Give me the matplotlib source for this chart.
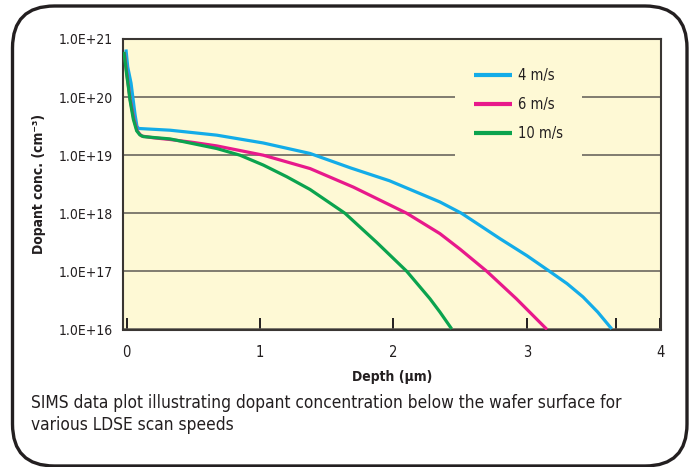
import matplotlib
matplotlib.use("Agg")
import matplotlib.pyplot as plt
from matplotlib.patches import FancyBboxPatch
from matplotlib.ticker import FixedLocator, NullFormatter

# ---------------- data ----------------
depth_4 = [-0.004, 0.009, 0.034, 0.064, 0.078, 0.09, 0.327, 0.676, 1.025, 1.375, 1.68,
           1.97, 2.348, 2.51, 2.80, 3.0, 3.17, 3.3, 3.42, 3.53, 3.635]
logc_4 = [20.82, 20.52, 20.24, 19.70, 19.50, 19.46, 19.43, 19.345, 19.21, 19.03, 18.78,
          18.56, 18.195, 18.0, 17.56, 17.27, 17.0, 16.79, 16.56, 16.30, 16.01]

depth_6 = [-0.016, 0.0, 0.026, 0.055, 0.08, 0.1, 0.114, 0.2, 0.327, 0.5, 0.676, 1.025, 1.375,
           1.70, 2.10, 2.348, 2.50, 2.70, 2.92, 3.15]
logc_6 = [20.77, 20.45, 19.98, 19.62, 19.42, 19.36, 19.33, 19.30, 19.27, 19.22, 19.16, 19.0, 18.77,
          18.45, 18.0, 17.65, 17.38, 17.0, 16.53, 16.0]

depth_10 = [-0.019, 0.0, 0.013, 0.026, 0.051, 0.076, 0.10, 0.126, 0.327, 0.676, 0.85, 1.025, 1.2,
            1.375, 1.637, 1.874, 2.10, 2.273, 2.348, 2.436]
logc_10 = [20.78, 20.41, 20.19, 19.95, 19.62, 19.42, 19.35, 19.32, 19.28, 19.115, 19.0, 18.83, 18.63,
           18.41, 18.0, 17.50, 17.0, 16.53, 16.30, 16.01]

series_labels = ["4 m/s", "6 m/s", "10 m/s"]
series_colors = ["#13ACE8", "#E8198B", "#0BA34E"]

x_ticks = [0, 1, 2, 3, 4]
y_ticks = [1e16, 1e17, 1e18, 1e19, 1e20, 1e21]
y_tick_labels = ["1.0E+16", "1.0E+17", "1.0E+18", "1.0E+19", "1.0E+20", "1.0E+21"]

caption = ("SIMS data plot illustrating dopant concentration below the wafer surface for\n"
           "various LDSE scan speeds")

plt.rcParams["font.family"] = ["DejaVu Sans"]
plt.rcParams["font.stretch"] = "condensed"
TXT = "#231F20"

W, H = 689, 467
fig = plt.figure(figsize=(W / 100, H / 100), dpi=100)
fig.patch.set_facecolor("white")

# background axes in pixel units for rounded frame
bg = fig.add_axes([0, 0, 1, 1], zorder=0)
bg.set_xlim(0, W)
bg.set_ylim(H, 0)
bg.axis("off")
frame = FancyBboxPatch((12.5 + 42, 6 + 42), 674.5 - 84, 460 - 84,
                       boxstyle="round,pad=42", linewidth=2.4, edgecolor="#231F20",
                       facecolor="white")
bg.add_patch(frame)
bg.text(31, 414, caption, fontsize=12.4, color=TXT, va="center", ha="left",
        linespacing=1.3, stretch="condensed")

# main axes
L, R, T, B = 123.5, 661, 39, 329.5
ax = fig.add_axes([L / W, 1 - B / H, (R - L) / W, (B - T) / H], zorder=1)
ax.set_facecolor("#FEF9D5")
ax.set_yscale("log")
ax.set_xlim(-0.0225, 4.004)
ax.set_ylim(1e16, 1e21)

for d, lc, lab, col in zip([depth_4, depth_6, depth_10], [logc_4, logc_6, logc_10],
                           series_labels, series_colors):
    ax.plot(d, [10 ** v for v in lc], color=col, lw=2.3, label=lab,
            solid_capstyle="butt", solid_joinstyle="round", zorder=3)

ax.yaxis.set_major_locator(FixedLocator(y_ticks))
ax.yaxis.set_minor_locator(FixedLocator([]))
ax.set_yticklabels(y_tick_labels)
ax.yaxis.set_minor_formatter(NullFormatter())
ax.tick_params(axis="y", which="both", length=0, pad=7.5, labelsize=10, labelcolor=TXT)
ax.grid(axis="y", which="major", color="#5E5A55", lw=1.1, zorder=1)
ax.set_axisbelow(True)

ax.set_xticks(x_ticks)
ax.set_xticklabels([str(t) for t in x_ticks])
ax.xaxis.set_minor_locator(FixedLocator([3.667]))
ax.tick_params(axis="x", which="both", direction="in", length=9, width=1.4, color="#231F20",
               pad=11, labelsize=10.5, labelcolor=TXT)

for s in ax.spines.values():
    s.set_color("#3A3633")
    s.set_linewidth(1.5)

ax.set_xlabel("Depth (µm)", fontsize=10, fontweight="bold", color=TXT, labelpad=7)
ax.set_ylabel("Dopant conc. (cm⁻³)", fontsize=10, fontweight="bold", color=TXT, labelpad=9)

leg = ax.legend(loc="center", bbox_to_anchor=(0.735, 0.7745), frameon=True, fontsize=10.5,
                handlelength=2.6, handletextpad=0.45, labelspacing=0.95, borderpad=1.3,
                facecolor="#FEF9D5", edgecolor="none", framealpha=1, fancybox=False,
                labelcolor=TXT)
for line in leg.get_lines():
    line.set_linewidth(3)

fig.savefig("out.png", dpi=100, facecolor="white")
